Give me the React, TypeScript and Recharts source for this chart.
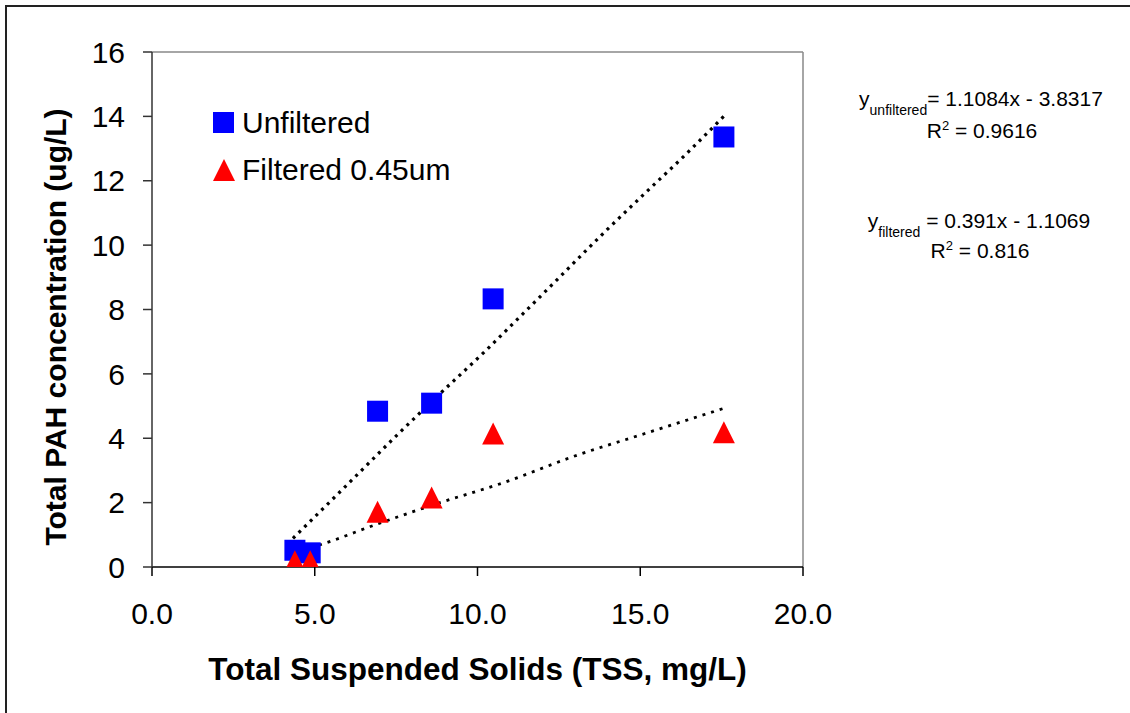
import React from "react";
import {ComposedChart, Line, ReferenceLine, Scatter, XAxis, YAxis} from "recharts";

const FONT = '"Liberation Sans", Arial, sans-serif';

// measured samples
const tssUnfiltered = [4.39, 4.86, 6.93, 8.59, 10.48, 17.57];
const pahUnfiltered = [0.52, 0.44, 4.84, 5.09, 8.33, 13.36];
const tssFiltered = [4.39, 4.86, 6.93, 8.59, 10.48, 17.57];
const pahFiltered = [0.18, 0.18, 1.72, 2.16, 4.15, 4.19];

// dotted trend curves as drawn in the original
const trendUnfX = [4.33, 5.94, 7.55, 8.76, 10.23, 11.3, 12.37, 13.85, 15.06, 16.4, 17.67];
const trendUnfY = [0.89, 2.5, 4.12, 5.3, 6.7, 7.77, 8.85, 10.35, 11.53, 12.82, 14.11];
const trendFilX = [4.33, 5.13, 6.88, 8.76, 10.77, 13.05, 15.06, 17.54];
const trendFilY = [0.46, 0.68, 1.32, 1.97, 2.61, 3.47, 4.12, 4.92];

const xTicks = [0, 5, 10, 15, 20];
const yTicks = [0, 2, 4, 6, 8, 10, 12, 14, 16];

const zip = (xs: number[], ys: number[]) => xs.map((x, i) => ({x, y: ys[i]}));

const unfiltered = zip(tssUnfiltered, pahUnfiltered);
const filtered = zip(tssFiltered, pahFiltered);
const trendUnf = zip(trendUnfX, trendUnfY);
const trendFil = zip(trendFilX, trendFilY);

const Square = (props: any) => {
   const {cx, cy} = props;
   if (cx == null || cy == null) return null;
   return <rect x={cx - 10.5} y={cy - 10.5} width={21} height={21} fill="#0000FF"/>;
};

const Triangle = (props: any) => {
   const {cx, cy} = props;
   if (cx == null || cy == null) return null;
   const h = 11;
   return <polygon points={`${cx},${cy - h} ${cx - 11},${cy + h} ${cx + 11},${cy + h}`} fill="#FF0000"/>;
};

const LegendBox = () => (
   <div style={{position: "absolute", left: 212, top: 99, fontFamily: FONT, fontSize: 30, color: "#000", lineHeight: "47px"}}>
      <div style={{display: "flex", alignItems: "center"}}>
         <svg width={30} height={24}>
            <rect x={1} y={1} width={21} height={21} fill="#0000FF"/>
         </svg>
         <span>Unfiltered</span>
      </div>
      <div style={{display: "flex", alignItems: "center"}}>
         <svg width={30} height={24}>
            <polygon points="12,1 1,23 23,23" fill="#FF0000"/>
         </svg>
         <span>Filtered 0.45um</span>
      </div>
   </div>
);

const Equations = () => (
   <svg width={1130} height={713} style={{position: "absolute", left: 0, top: 0, pointerEvents: "none"}}>
      <g fontFamily={FONT} fill="#000" textAnchor="middle">
         <text x={981} y={106} fontSize={21}>
            <tspan>y</tspan>
            <tspan fontSize={14} dy={9}>unfiltered</tspan>
            <tspan dy={-9}>= 1.1084x - 3.8317</tspan>
         </text>
         <text x={982} y={138} fontSize={21}>
            <tspan>R</tspan>
            <tspan fontSize={13} dy={-8}>2</tspan>
            <tspan dy={8}> = 0.9616</tspan>
         </text>
         <text x={979} y={228} fontSize={21}>
            <tspan>y</tspan>
            <tspan fontSize={14} dy={9}>filtered</tspan>
            <tspan dy={-9}> = 0.391x - 1.1069</tspan>
         </text>
         <text x={980} y={258} fontSize={21}>
            <tspan>R</tspan>
            <tspan fontSize={13} dy={-8}>2</tspan>
            <tspan dy={8}> = 0.816</tspan>
         </text>
      </g>
   </svg>
);

export default function App() {
   return (
      <div style={{position: "absolute", left: 0, top: 0, width: 1130, height: 713, overflow: "hidden", background: "#fff"}}>
         <div style={{position: "absolute", left: 5, top: 5, width: 1200, height: 800, borderLeft: "2px solid #222", borderTop: "2px solid #222"}}/>
         <ComposedChart width={1130} height={713} margin={{top: 52, right: 327, bottom: 0, left: 0}}>
            <XAxis
               type="number"
               dataKey="x"
               domain={[0, 20]}
               ticks={xTicks}
               tickFormatter={(v: number) => v.toFixed(1)}
               height={146}
               tickSize={9}
               tickMargin={27}
               stroke="#000"
               strokeWidth={1.5}
               tick={{fill: "#000", fontSize: 30, fontFamily: FONT}}
               allowDataOverflow
               label={{
                  content: () => (
                     <text x={477.5} y={680} textAnchor="middle" fontFamily={FONT} fontSize={31.5} fontWeight="bold" fill="#000">
                        Total Suspended Solids (TSS, mg/L)
                     </text>
                  ),
               }}
            />
            <YAxis
               type="number"
               dataKey="y"
               domain={[0, 16]}
               ticks={yTicks}
               width={152}
               tickSize={9}
               tickMargin={18}
               stroke="#333"
               strokeWidth={1.5}
               tick={{fill: "#000", fontSize: 30, fontFamily: FONT}}
               allowDataOverflow
               label={{
                  content: () => (
                     <text
                        x={66}
                        y={327}
                        transform="rotate(-90 66 327)"
                        textAnchor="middle"
                        fontFamily={FONT}
                        fontSize={30}
                        fontWeight="bold"
                        fill="#000"
                     >
                        Total PAH concentration (ug/L)
                     </text>
                  ),
               }}
            />
            <ReferenceLine y={16} stroke="#888" strokeWidth={1.5} ifOverflow="visible"/>
            <ReferenceLine x={20} stroke="#888" strokeWidth={1.5} ifOverflow="visible"/>
            <Scatter name="Unfiltered" data={unfiltered} shape={<Square/>} isAnimationActive={false}/>
            <Scatter name="Filtered 0.45um" data={filtered} shape={<Triangle/>} isAnimationActive={false}/>
            <Line
               data={trendUnf}
               dataKey="y"
               type="monotone"
               stroke="#000"
               strokeWidth={3.2}
               strokeDasharray="3 5"
               dot={false}
               activeDot={false}
               isAnimationActive={false}
            />
            <Line
               data={trendFil}
               dataKey="y"
               type="monotone"
               stroke="#000"
               strokeWidth={2.8}
               strokeDasharray="3 6"
               dot={false}
               activeDot={false}
               isAnimationActive={false}
            />
         </ComposedChart>
         <LegendBox/>
         <Equations/>
      </div>
   );
}
